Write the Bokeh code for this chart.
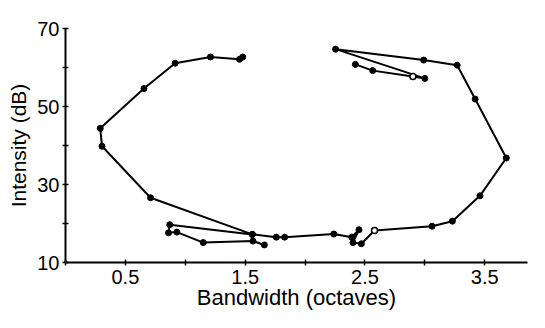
from bokeh.plotting import figure
from bokeh.models import Range1d, FixedTicker
from bokeh.embed import file_html
from bokeh.resources import INLINE

# Left half of the trajectory (bandwidth in octaves, intensity in dB)
left_bw = [1.66, 1.565, 1.15, 0.93, 0.86, 0.87, 1.56, 0.71, 0.305, 0.29, 0.655, 0.915, 1.21, 1.453, 1.48]
left_db = [14.5, 15.5, 15.1, 17.8, 17.6, 19.7, 17.2, 26.6, 39.8, 44.4, 54.6, 61.1, 62.7, 62.1, 62.7]

# Right half of the trajectory
right_bw = [1.56, 1.76, 1.83, 2.24, 2.39, 2.45, 2.40, 2.47, 2.58, 3.06, 3.23, 3.46, 3.68, 3.42, 3.27, 2.99, 2.255, 3.0, 2.90, 2.565, 2.42]
right_db = [17.2, 16.5, 16.5, 17.3, 16.5, 18.4, 15.1, 14.8, 18.2, 19.3, 20.6, 27.1, 36.8, 51.9, 60.6, 61.9, 64.7, 57.2, 57.7, 59.2, 60.8]

# Open-circle markers
open_bw = [2.58, 2.90]
open_db = [18.2, 57.7]

x_ticks = [0, 0.5, 1.0, 1.5, 2.0, 2.5, 3.0, 3.5]
x_labels = {0: "", 0.5: "0.5", 1.0: "", 1.5: "1.5", 2.0: "", 2.5: "2.5", 3.0: "", 3.5: "3.5"}
y_ticks = [10, 20, 30, 40, 50, 60, 70]
y_labels = {10: "10", 20: "", 30: "30", 40: "", 50: "50", 60: "", 70: "70"}

FONT = "Liberation Sans"

p = figure(width=529, height=312, output_backend="svg", toolbar_location=None,
           x_range=Range1d(0, 3.857), y_range=Range1d(10, 70),
           min_border_left=65, min_border_right=2, min_border_top=28, min_border_bottom=47)
p.outline_line_color = None
p.xgrid.visible = False
p.ygrid.visible = False
p.background_fill_color = "white"
p.border_fill_color = "white"

for xs, ys in [(left_bw, left_db), (right_bw, right_db)]:
    p.line(xs, ys, line_color="black", line_width=2)
    p.scatter(xs, ys, size=6, fill_color="black", line_color="black")
p.scatter(open_bw, open_db, size=6, fill_color="white", line_color="black", line_width=1.5)

p.xaxis.ticker = FixedTicker(ticks=x_ticks)
p.xaxis.major_label_overrides = x_labels
p.yaxis.ticker = FixedTicker(ticks=y_ticks)
p.yaxis.major_label_overrides = y_labels
for ax in (p.xaxis[0], p.yaxis[0]):
    ax.axis_line_color = "black"
    ax.axis_line_width = 2
    ax.major_tick_line_color = "black"
    ax.major_tick_line_width = 1.5
    ax.major_tick_in = 3
    ax.major_tick_out = 3
    ax.minor_tick_line_color = None
    ax.major_label_text_font = FONT
    ax.major_label_text_font_size = "20px"
    ax.major_label_text_color = "black"
    ax.axis_label_text_font = FONT
    ax.axis_label_text_font_style = "normal"
    ax.axis_label_text_color = "black"
p.xaxis.axis_label = "Bandwidth (octaves)"
p.yaxis.axis_label = "Intensity (dB)"
p.xaxis.axis_label_text_font_size = "22px"
p.yaxis.axis_label_text_font_size = "21px"
p.xaxis.major_label_standoff = 4
p.yaxis.major_label_standoff = 3
p.xaxis.axis_label_standoff = -2
p.yaxis.axis_label_standoff = 4

open("out.html", "w").write(file_html(p, INLINE))
